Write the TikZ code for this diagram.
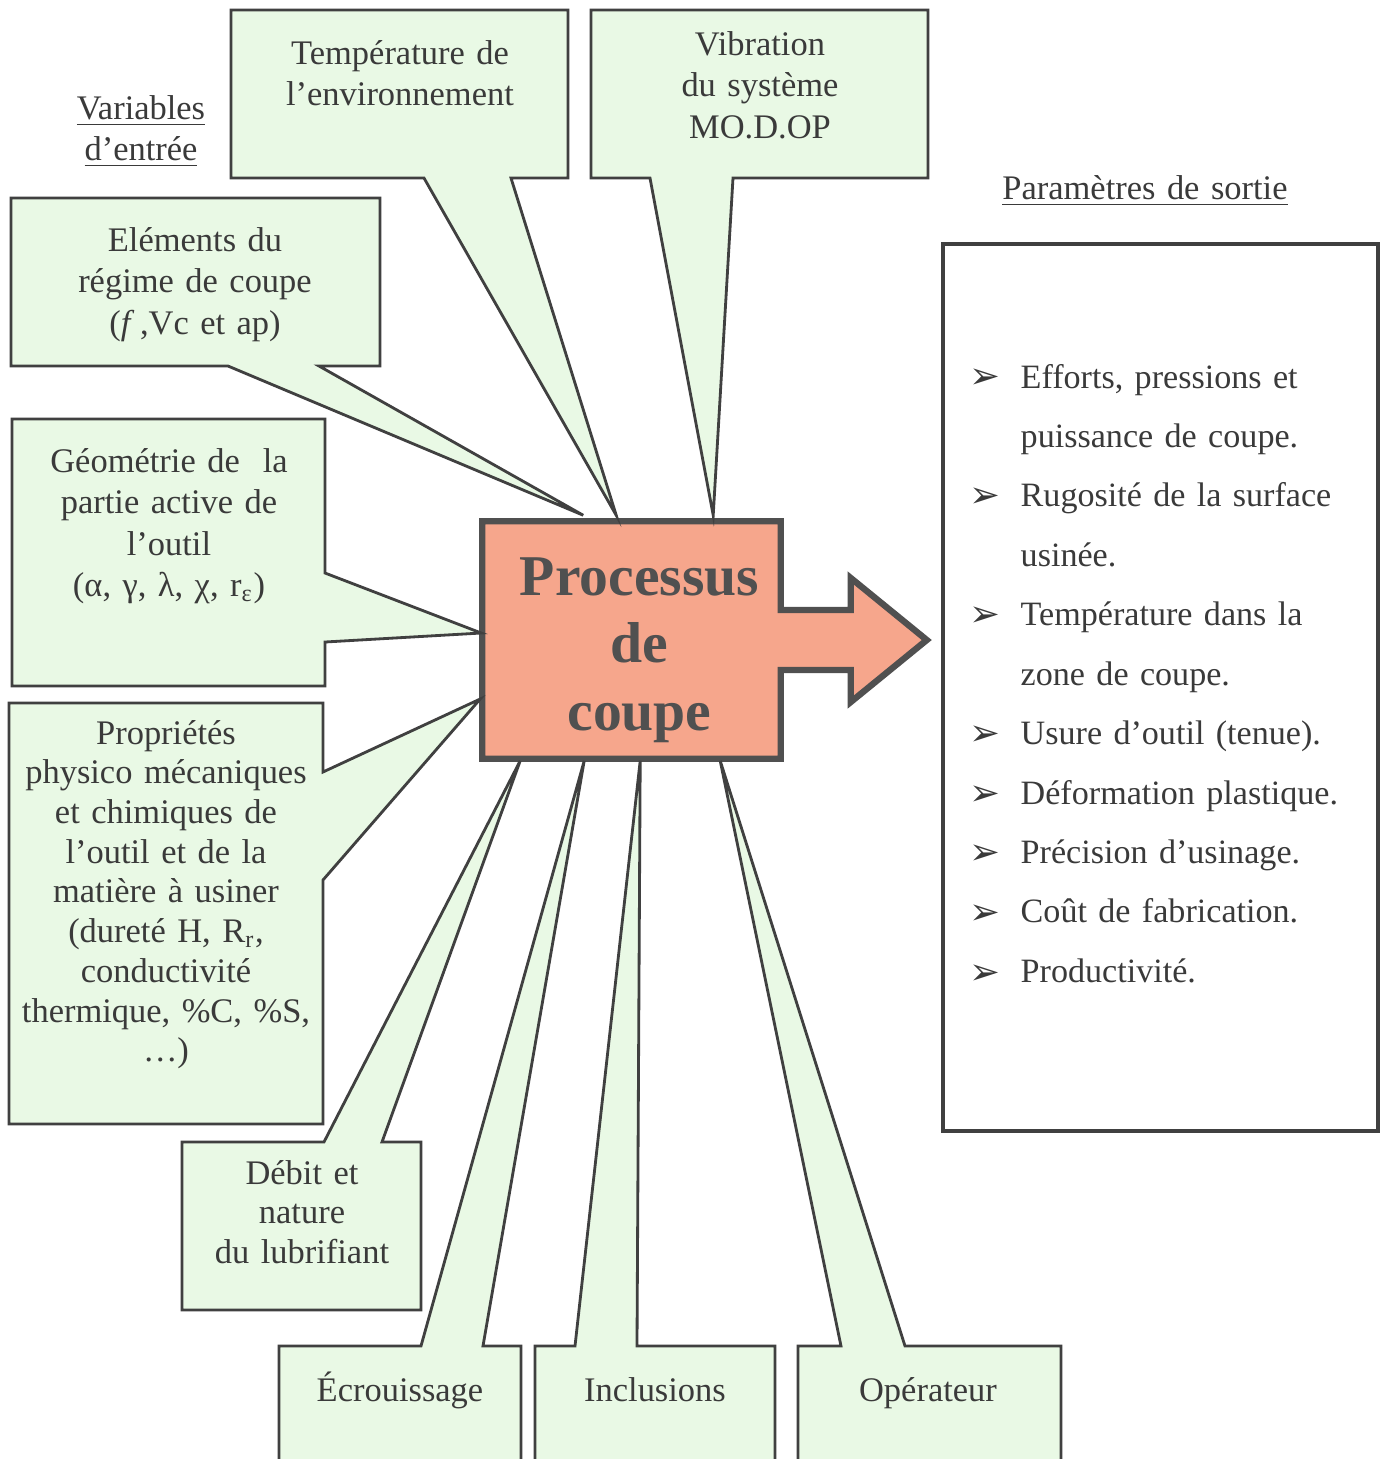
\documentclass[tikz,border=0pt]{standalone}
\usepackage{fontspec}
\setmainfont{Liberation Serif}
\newfontfamily\symfont{DejaVu Sans}
\usepackage{xcolor}
\usetikzlibrary{calc,backgrounds}
\definecolor{mint}{HTML}{E9F9E5}
\definecolor{salmon}{HTML}{F6A68C}
\definecolor{ink}{HTML}{3A3A3A}
\definecolor{edge}{HTML}{404040}
\definecolor{procink}{HTML}{505050}
\newcommand{\boxfont}{\fontsize{9.8}{11.8}\selectfont}
\newcommand{\tightfont}{\fontsize{9.8}{11.3}\selectfont}
\newcommand{\procfont}{\fontsize{16.4}{19.3}\selectfont\bfseries}
\newcommand{\listfont}{\fontsize{9.7}{16.9}\selectfont}
\newcommand{\pshift}{\hspace*{0.16cm}}
\tikzset{
  bubble/.style={draw=edge, fill=mint, line width=0.8pt, line join=miter},
  procshape/.style={draw=procink, fill=salmon, line width=1.8pt, line join=miter},
  outbox/.style={draw=edge, line width=0.9pt},
  txt/.style={text=ink, font=\boxfont, align=center, anchor=base, inner sep=0pt},
  tight/.style={font=\tightfont},
  proctxt/.style={text=procink, font=\procfont, align=center, inner sep=0pt},
  listtxt/.style={text=ink, font=\listfont, align=left, anchor=base west, inner sep=0pt},
  bulnode/.style={text=ink, font=\symfont\fontsize{10.5}{10.5}\selectfont, anchor=base, inner sep=0pt},
}

\begin{document}
\begin{tikzpicture}[x=0.01cm, y=-0.01cm]
  \useasboundingbox (0,0) rectangle (1388,1459);

  % process block
  \node[proctxt, minimum width=2.97cm, minimum height=2.36cm, text width=2.97cm] (proc) at (631.5,640)
    {\pshift\rule{0pt}{16.5pt}Processus\\\pshift de\\\pshift coupe};

  \coordinate (tE) at ($(proc.north west)+(101,-6)$);
  \coordinate (tT) at ($(proc.north west)+(134,-6)$);
  \coordinate (tV) at ($(proc.north west)+(231,-6)$);
  \coordinate (tG) at ($(proc.west)+(-1,-7)$);
  \coordinate (tP) at ($(proc.west)+(-2,59)$);
  \coordinate (tD) at ($(proc.south west)+(38,2)$);
  \coordinate (tC) at ($(proc.south west)+(102,2)$);
  \coordinate (tI) at ($(proc.south west)+(158,2)$);
  \coordinate (tO) at ($(proc.south west)+(238,2)$);

  % input labels
  \node[txt, text width=2cm] (varin) at (141,119) {\underline{Variables}\\\underline{d’entrée}};
  \node[txt, text width=3.2cm] (temp) at (400,64) {Température de\\l’environnement};
  \node[txt, text width=3.2cm] (vib) at (760,55) {Vibration\\du système\\MO.D.OP};
  \node[txt, text width=3.5cm] (elem) at (195,251) {Eléments du\\régime de coupe\\(\textit{f}\,,Vc et ap)};
  \node[txt, text width=3cm] (geom) at (169,472) {Géométrie de \ la\\partie active de\\l’outil\\(α, γ, λ, χ, r\textsubscript{ε})};
  \node[txt, tight, text width=3.05cm] (prop) at (166,744) {Propriétés\\physico mécaniques\\et chimiques de\\l’outil et de la\\matière à usiner\\(dureté H, R\textsubscript{r},\\conductivité\\thermique, \%C, \%S,\\…)};
  \node[txt, tight, text width=2.2cm] (debit) at (302,1184) {Débit et\\nature\\du lubrifiant};
  \node[txt, text width=2.2cm] (ecr) at (400,1401) {Écrouissage};
  \node[txt, text width=2.2cm] (incl) at (655,1401) {Inclusions};
  \node[txt, text width=2.4cm] (oper) at (928,1401) {Opérateur};

  % outputs
  \node[txt, text width=3.5cm] (parout) at (1145,199) {\underline{Paramètres de sortie}};
  \node[listtxt, text width=3.5cm] (outs) at (1020,388) {Efforts, pressions et\\puissance de coupe.\\Rugosité de la surface\\usinée.\\Température dans la\\zone de coupe.\\Usure d’outil (tenue).\\Déformation plastique.\\Précision d’usinage.\\Coût de fabrication.\\Productivité.};
  \foreach \k in {0,2,4,6,7,8,9,10}
    \node[bulnode] (bul\k) at (985,{388+59.6*\k}) {➢};

  \begin{scope}[on background layer]
    \fill[white] (0,0) rectangle (1388,1459);
    \draw[procshape] (proc.north west) -- (proc.north east) -- ($(proc.east)+(0,-30)$) -- ($(proc.east)+(70,-30)$)
      -- ($(proc.east)+(70,-62)$) -- ($(proc.east)+(146,0)$) -- ($(proc.east)+(70,62)$) -- ($(proc.east)+(70,30)$)
      -- ($(proc.east)+(0,30)$) -- (proc.south east) -- (proc.south west) -- cycle;

    \draw[bubble] (11,198) -- (380,198) -- (380,366) -- (319,366) -- (tE) -- (228,366) -- (11,366) -- cycle;
    \draw[bubble] (231,10) -- (568,10) -- (568,178) -- (511,178) -- (tT) -- (424,178) -- (231,178) -- cycle;
    \draw[bubble] (591,10) -- (928,10) -- (928,178) -- (733,178) -- (tV) -- (650,178) -- (591,178) -- cycle;
    \draw[bubble] (12,419) -- (325,419) -- (325,573) -- (tG) -- (325,642) -- (325,686) -- (12,686) -- cycle;
    \draw[bubble] (9,703) -- (323,703) -- (323,772) -- (tP) -- (323,880) -- (323,1124) -- (9,1124) -- cycle;
    \draw[bubble] (182,1142) -- (324,1142) -- (tD) -- (382,1142) -- (421,1142) -- (421,1310) -- (182,1310) -- cycle;
    \draw[bubble] (279,1490) -- (279,1346) -- (421,1346) -- (tC) -- (483,1346) -- (521,1346) -- (521,1490) -- cycle;
    \draw[bubble] (535,1490) -- (535,1346) -- (575,1346) -- (tI) -- (637,1346) -- (775,1346) -- (775,1490) -- cycle;
    \draw[bubble] (798,1490) -- (798,1346) -- (841,1346) -- (tO) -- (905,1346) -- (1061,1346) -- (1061,1490) -- cycle;

    \draw[outbox] (943,244) rectangle (1378,1131);
  \end{scope}
\end{tikzpicture}
\end{document}
